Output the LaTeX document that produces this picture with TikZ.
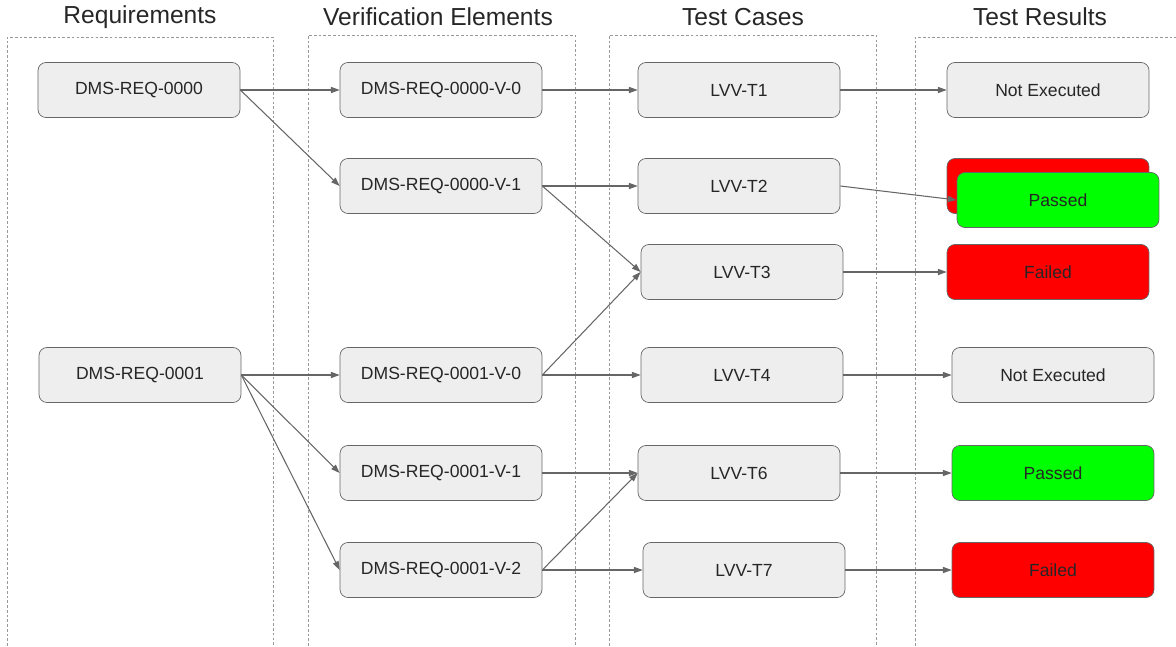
\documentclass[tikz,border=0pt]{standalone}
\usepackage{fontspec}
\setmainfont{Liberation Sans}
\usetikzlibrary{arrows.meta,positioning}
\definecolor{boxfill}{HTML}{EEEEEE}
\definecolor{boxline}{HTML}{666666}
\definecolor{passgreen}{HTML}{00FF00}
\definecolor{failred}{HTML}{FF0000}

\begin{document}
\begin{tikzpicture}[x=0.02cm,y=-0.02cm,
    item/.style={draw=boxline,fill=boxfill,rounded corners=4.5pt,minimum width=4.04cm,minimum height=1.1cm,font=\fontsize{10}{12}\selectfont,text=black!85},
    passed/.style={item,fill=passgreen},
    failed/.style={item,fill=failred},
    column/.style={draw=black!40,dash pattern=on 1.5pt off 1.2pt,line width=0.4pt},
    title/.style={font=\fontsize{14}{16}\selectfont,text=black!85},
    link/.style={draw=boxline,line width=0.6pt,-{Triangle[length=5pt,width=3.5pt]}}]
  \useasboundingbox (0,0) rectangle (1176,646);

  % Columns
  \begin{scope}
    \clip (0,0) rectangle (1176,646);
    \draw[column] (7,660) |- (273,37) -- (273,660);
    \draw[column] (308,660) |- (575,35) -- (575,660);
    \draw[column] (609,660) |- (876,35) -- (876,660);
    \draw[column] (915,660) |- (1190,37);
  \end{scope}
  \node[title] (treq) at (140,17) {Requirements};
  \node[title] (tver) at (438,17) {Verification Elements};
  \node[title] (tcase) at (743,17) {Test Cases};
  \node[title] (tres) at (1040,17) {Test Results};

  % Requirements
  \node[item] (req0) at (139,90) {DMS-REQ-0000};
  \node[item] (req1) at (140,375) {DMS-REQ-0001};

  % Verification elements
  \node[item] (ve00) at (441,90) {DMS-REQ-0000-V-0};
  \node[item] (ve01) at (441,186) {DMS-REQ-0000-V-1};
  \node[item] (ve10) at (441,375) {DMS-REQ-0001-V-0};
  \node[item] (ve11) at (441,473) {DMS-REQ-0001-V-1};
  \node[item] (ve12) at (441,570) {DMS-REQ-0001-V-2};

  % Test cases
  \node[item] (tc1) at (739,90) {LVV-T1};
  \node[item] (tc2) at (739,186) {LVV-T2};
  \node[item] (tc3) at (742,272) {LVV-T3};
  \node[item] (tc4) at (742,375) {LVV-T4};
  \node[item] (tc6) at (739,473) {LVV-T6};
  \node[item] (tc7) at (744,570) {LVV-T7};

  % Test results
  \node[item] (res1) at (1048,90) {Not Executed};
  \node[failed] (res2old) at (1048,186) {};
  \node[passed] (res2) at (1058,200) {Passed};
  \node[failed] (res3) at (1048,272) {Failed};
  \node[item] (res4) at (1053,375) {Not Executed};
  \node[passed] (res6) at (1053,473) {Passed};
  \node[failed] (res7) at (1053,570) {Failed};

  % Links
  \draw[link] (req0.east) -- (ve00.west);
  \draw[link] (req0.east) -- (ve01.west);
  \draw[link] (req1.east) -- (ve10.west);
  \draw[link] (req1.east) -- (ve11.west);
  \draw[link] (req1.east) -- (ve12.west);
  \draw[link] (ve00.east) -- (tc1.west);
  \draw[link] (ve01.east) -- (tc2.west);
  \draw[link] (ve01.east) -- (tc3.west);
  \draw[link] (ve10.east) -- (tc3.west);
  \draw[link] (ve10.east) -- (tc4.west);
  \draw[link] (ve11.east) -- (tc6.west);
  \draw[link] (ve12.east) -- (tc6.west);
  \draw[link] (ve12.east) -- (tc7.west);
  \draw[link] (tc1.east) -- (res1.west);
  \draw[link] (tc2.east) -- (res2.west);
  \draw[link] (tc3.east) -- (res3.west);
  \draw[link] (tc4.east) -- (res4.west);
  \draw[link] (tc6.east) -- (res6.west);
  \draw[link] (tc7.east) -- (res7.west);
\end{tikzpicture}
\end{document}
